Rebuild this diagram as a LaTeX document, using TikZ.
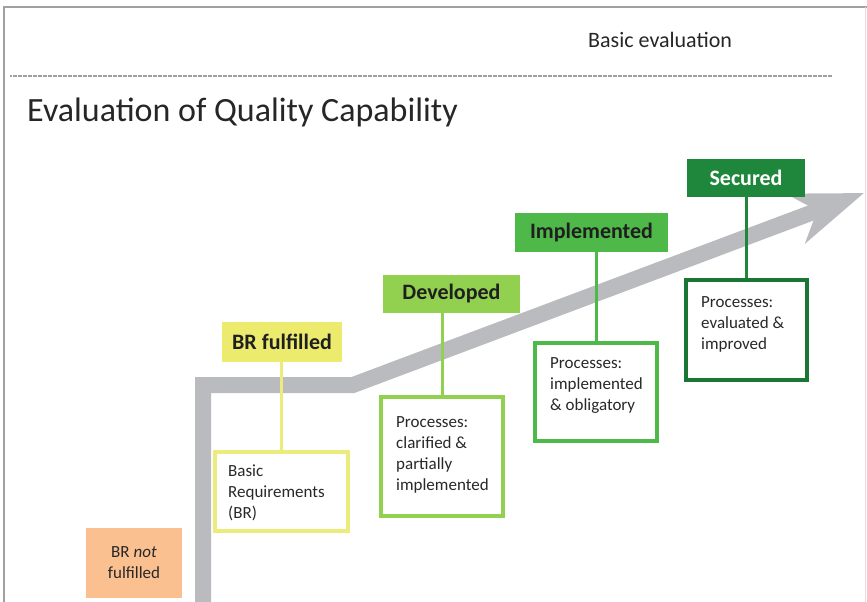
\documentclass[tikz,border=0pt]{standalone}
\usepackage{fontspec}
\setmainfont{Carlito}
\usetikzlibrary{arrows.meta}
\definecolor{arrowgray}{RGB}{186,187,191}
\definecolor{ylw}{RGB}{236,235,110}
\definecolor{ylwb}{RGB}{236,236,125}
\definecolor{gA}{RGB}{146,208,80}
\definecolor{gB}{RGB}{78,184,72}
\definecolor{gC}{RGB}{30,135,60}
\definecolor{gCb}{RGB}{26,118,52}
\definecolor{orng}{RGB}{250,192,143}
\definecolor{txt}{RGB}{40,40,40}
\definecolor{frame}{RGB}{160,160,160}
\tikzset{
  lab/.style={draw=none, inner sep=0pt, font=\fontsize{22}{26}\selectfont\bfseries, text=black!88},
  pbox/.style={draw, fill=white, line width=4pt, inner sep=0pt},
  ptext/.style={anchor=north west, inner sep=0pt, align=left, font=\fontsize{17}{21}\selectfont, text=txt},
  conn/.style={line width=3pt},
}
\begin{document}
\begin{tikzpicture}[x=1pt,y=-1pt]
\useasboundingbox (0,0) rectangle (867,602);
% frame
\draw[frame, line width=2pt] (4,602) -- (4,7) -- (867,7);
\draw[black!12, line width=1pt] (865.5,7) -- (865.5,602);
\node[font=\fontsize{22}{26}\selectfont, text=black!85, anchor=west, inner sep=0pt] (sub) at (588,40) {Basic evaluation};
\draw[frame, line width=2.5pt, dash pattern=on 2pt off 0.5pt] (10,76) -- (832,76);
\node[font=\fontsize{34}{40}\selectfont, text=black!85, anchor=west, inner sep=0pt] (title) at (27,112) {Evaluation of Quality Capability};
% arrow
\draw[arrowgray, line width=16pt, -{Stealth[length=72pt,width=52pt,inset=22pt]}] (203,602) -- (203,385) -- (353,385) -- (864,193);
% BR not fulfilled
\node[fill=orng, minimum width=96pt, minimum height=70pt, inner sep=0pt, align=center, font=\fontsize{17}{21}\selectfont, text=txt] (notf) at (134,563) {BR \textit{not}\\fulfilled};
% BR fulfilled
\node[lab, fill=ylw, minimum width=120pt, minimum height=40pt] (l1) at (282,342) {BR fulfilled};
\node[pbox, draw=ylwb, minimum width=133pt, minimum height=79pt] (b1) at (281.5,491.5) {};
\node[ptext] (t1) at ([xshift=15pt,yshift=-15pt]b1.north west) {Basic\\Requirements\\(BR)};
\draw[ylwb, conn] (b1.north) -- (b1.north |- l1.south);
% Developed
\node[lab, fill=gA, minimum width=137pt, minimum height=38pt] (l2) at (451.5,294) {Developed};
\node[pbox, draw=gA, minimum width=122pt, minimum height=119pt] (b2) at (442,456.5) {};
\node[ptext] (t2) at ([xshift=17pt,yshift=-21pt]b2.north west) {Processes:\\clarified \&\\partially\\implemented};
\draw[gA, conn] (b2.north) -- (b2.north |- l2.south);
% Implemented
\node[lab, fill=gB, minimum width=153pt, minimum height=39pt] (l3) at (591.5,232.5) {Implemented};
\node[pbox, draw=gB, minimum width=122pt, minimum height=98pt] (b3) at (596,392) {};
\node[ptext] (t3) at ([xshift=17pt,yshift=-16pt]b3.north west) {Processes:\\implemented\\\& obligatory};
\draw[gB, conn] (b3.north) -- (b3.north |- l3.south);
% Secured
\node[lab, fill=gC, text=white, minimum width=118pt, minimum height=38pt] (l4) at (746,178) {Secured};
\node[pbox, draw=gCb, minimum width=121pt, minimum height=100pt] (b4) at (746.5,330) {};
\node[ptext] (t4) at ([xshift=17pt,yshift=-18pt]b4.north west) {Processes:\\evaluated \&\\improved};
\draw[gC, conn] (b4.north) -- (b4.north |- l4.south);
\end{tikzpicture}
\end{document}
